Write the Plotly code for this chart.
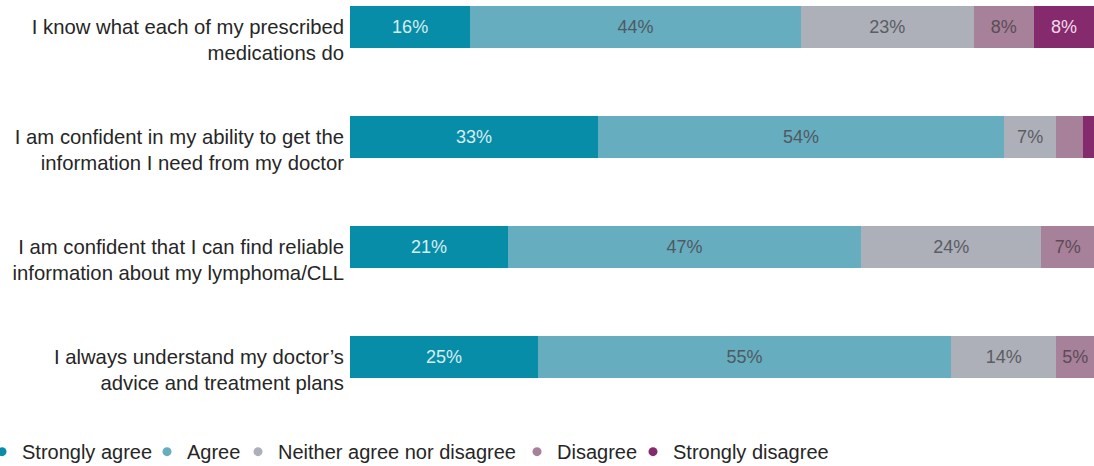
import plotly.graph_objects as go

statements = [
    "I know what each of my prescribed<br>medications do",
    "I am confident in my ability to get the<br>information I need from my doctor",
    "I am confident that I can find reliable<br>information about my lymphoma/CLL",
    "I always understand my doctor’s<br>advice and treatment plans",
]
responses = ["Strongly agree", "Agree", "Neither agree nor disagree", "Disagree", "Strongly disagree"]

strongly_agree = [16, 33, 21, 25]
agree = [44, 54, 47, 55]
neither = [23, 7, 24, 14]
disagree = [8, 3.6, 7, 5]
strongly_disagree = [8, 2.4, 1, 1]

# labels shown inside each segment ("" where the segment is too narrow)
labels = [
    ["16%", "33%", "21%", "25%"],
    ["44%", "54%", "47%", "55%"],
    ["23%", "7%", "24%", "14%"],
    ["8%", "", "7%", "5%"],
    ["8%", "", "", ""],
]

series = [strongly_agree, agree, neither, disagree, strongly_disagree]
colors = ["#088da8", "#66adc0", "#adb0b8", "#a7809a", "#862a6e"]
text_colors = ["#d6eef3", "#4f5a60", "#5a5d63", "#5a4d56", "#f2d9ea"]

rows = list(range(len(statements)))

fig = go.Figure()
for name, vals, lab, col, tcol in zip(responses, series, labels, colors, text_colors):
    fig.add_trace(go.Bar(
        y=rows, x=vals, orientation="h", name=name,
        marker=dict(color=col, line=dict(width=0)),
        text=lab, textposition="inside", insidetextanchor="middle",
        textfont=dict(family="Liberation Sans, Arial", size=18, color=tcol),
        width=0.38, showlegend=False, hoverinfo="skip",
        cliponaxis=True,
    ))

# one small legend per response so each entry can sit at its own position
legend_left_px = [-18, 147, 238, 517, 633]
legend_ids = ["legend"] + [f"legend{i}" for i in range(2, len(responses) + 1)]
for name, col, lid in zip(responses, colors, legend_ids):
    fig.add_trace(go.Scatter(
        x=[None], y=[None], mode="markers", name=name, legend=lid,
        marker=dict(color=col, size=9, symbol="circle"),
    ))

plot_left, plot_width = 350, 744
legend_style = dict(
    orientation="h", xanchor="left", y=-0.029, yanchor="top",
    font=dict(size=20, color="#262626"), itemwidth=30,
    bgcolor="rgba(0,0,0,0)",
)
for lid, px in zip(legend_ids, legend_left_px):
    fig.update_layout({lid: dict(x=(px - plot_left) / plot_width, **legend_style)})

fig.update_layout(
    width=1094, height=466,
    margin=dict(l=plot_left, r=0, t=0, b=46, autoexpand=False),
    barmode="stack",
    plot_bgcolor="white", paper_bgcolor="white",
    font=dict(family="Liberation Sans, Arial", size=20, color="#262626"),
    xaxis=dict(range=[0, 99], visible=False, fixedrange=True),
    yaxis=dict(
        range=[3.573, -0.245], tickvals=rows, ticktext=statements,
        showgrid=False, zeroline=False, showline=False, ticks="",
        tickfont=dict(size=20.3, color="#262626"),
        ticklabelshift=-13, ticklabelstandoff=5, automargin=False,
    ),
    showlegend=True,
)

fig.write_html("out.html")
